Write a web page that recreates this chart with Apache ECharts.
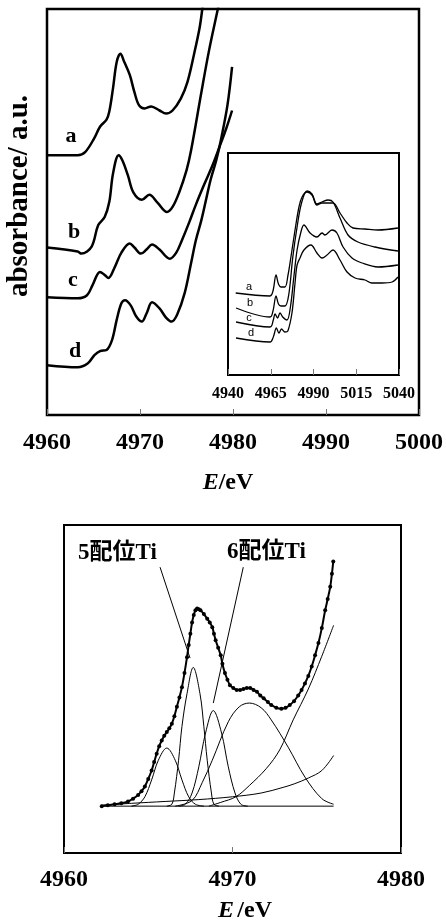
<!DOCTYPE html>
<html>
<head>
<meta charset="utf-8">
<script src="https://cdn.jsdelivr.net/npm/echarts@6/dist/echarts.min.js"></script>
<style>
html,body{margin:0;padding:0;background:#fff;}
#chart{width:446px;height:924px;}
</style>
</head>
<body>
<div id="chart"></div>
<script>
// ---------- axis ranges / ticks ----------
const mainXRange = [4960, 5000, 10];
const insetXRange = [4940, 5040, 25];
const fitXRange = [4960, 4980, 10];
const mainYRange = [0, 4];
const insetYRange = [0, 2.22];
const fitYRange = [-0.5, 3.0];

// ---------- main panel (absorbance, a.u.) ----------
const mainA = [[4960.0,2.56],[4963.3,2.56],[4964.1,2.59],[4965.1,2.73],[4965.7,2.84],[4966.4,2.91],[4966.7,2.99],[4967.1,3.22],[4967.5,3.48],[4967.9,3.56],[4968.3,3.48],[4968.9,3.35],[4969.4,3.18],[4969.9,3.05],[4970.5,3.02],[4971.2,3.04],[4972.1,3.00],[4972.8,2.97],[4973.5,3.00],[4974.4,3.12],[4975.1,3.28],[4975.8,3.55],[4976.4,3.81],[4976.7,4.00],[4977.0,4.20]];
const mainB = [[4960.0,1.65],[4963.3,1.61],[4963.7,1.59],[4964.8,1.66],[4965.5,1.87],[4966.2,1.95],[4966.7,2.10],[4967.1,2.38],[4967.7,2.56],[4968.1,2.51],[4968.7,2.36],[4969.3,2.19],[4970.2,2.12],[4971.0,2.17],[4971.9,2.09],[4972.9,2.00],[4973.5,2.05],[4974.2,2.19],[4975.0,2.41],[4975.5,2.61],[4976.6,3.18],[4977.4,3.58],[4978.3,3.97],[4978.6,4.10]];
const mainC = [[4960.0,1.16],[4963.3,1.15],[4964.3,1.18],[4964.9,1.28],[4965.7,1.41],[4966.2,1.38],[4966.6,1.35],[4967.3,1.46],[4968.0,1.60],[4968.9,1.69],[4969.4,1.65],[4970.1,1.59],[4970.7,1.63],[4971.3,1.68],[4972.1,1.63],[4973.2,1.54],[4973.9,1.60],[4974.5,1.72],[4975.3,1.90],[4976.0,2.07],[4976.9,2.27],[4977.8,2.46],[4978.5,2.63],[4979.3,2.83],[4979.9,3.00]];
const mainD = [[4960.0,0.49],[4963.3,0.47],[4964.4,0.51],[4965.1,0.59],[4965.7,0.63],[4966.4,0.64],[4967.0,0.74],[4967.5,0.94],[4968.0,1.10],[4968.4,1.13],[4969.0,1.08],[4969.6,0.97],[4970.2,0.92],[4970.7,1.00],[4971.3,1.11],[4972.1,1.05],[4972.8,0.96],[4973.4,0.92],[4974.0,0.99],[4974.8,1.20],[4975.5,1.50],[4976.0,1.72],[4976.6,1.92],[4977.1,2.12],[4977.6,2.32],[4978.2,2.51],[4978.7,2.71],[4979.4,3.05],[4979.9,3.43]];
const mainLabels = ['a','b','c','d'];

// ---------- inset panel ----------
const insetA = [[4944.5,0.82],[4964.6,0.79],[4966.3,0.84],[4968.1,1.00],[4969.5,0.91],[4971.0,0.88],[4973.3,0.88],[4975.1,1.00],[4976.8,1.18],[4979.2,1.45],[4981.5,1.68],[4983.3,1.78],[4986.2,1.83],[4989.1,1.80],[4992.0,1.70],[4995.0,1.72],[4998.5,1.72],[5001.4,1.72],[5005.5,1.62],[5009.6,1.52],[5013.1,1.47],[5020.1,1.46],[5027.7,1.45],[5039.4,1.47]];
const insetB = [[4944.7,0.67],[4964.6,0.58],[4966.3,0.64],[4968.1,0.79],[4969.5,0.71],[4971.0,0.69],[4973.3,0.69],[4975.5,0.80],[4977.9,1.18],[4980.4,1.48],[4983.0,1.72],[4986.2,1.84],[4989.1,1.81],[4992.0,1.71],[4995.0,1.73],[4998.5,1.75],[5001.4,1.73],[5005.5,1.57],[5010.2,1.40],[5016.0,1.33],[5026.0,1.28],[5039.4,1.24]];
const insetC = [[4944.7,0.53],[4964.6,0.48],[4966.5,0.55],[4967.5,0.61],[4969.0,0.57],[4970.4,0.62],[4972.0,0.58],[4974.5,0.55],[4976.5,0.68],[4978.5,0.98],[4980.4,1.25],[4982.5,1.42],[4984.4,1.50],[4988.0,1.42],[4992.0,1.38],[4995.0,1.42],[4996.7,1.40],[5000.8,1.45],[5003.7,1.42],[5007.3,1.28],[5012.5,1.17],[5018.4,1.12],[5027.7,1.08],[5039.4,1.10]];
const insetD = [[4944.7,0.37],[4964.6,0.33],[4966.5,0.38],[4968.3,0.47],[4969.8,0.42],[4971.3,0.46],[4973.3,0.43],[4975.0,0.44],[4977.4,0.62],[4979.2,0.92],[4980.4,1.10],[4982.1,1.17],[4984.4,1.25],[4988.5,1.30],[4992.0,1.22],[4995.0,1.17],[4997.9,1.20],[5001.4,1.25],[5005.5,1.15],[5009.6,1.03],[5014.3,0.97],[5020.1,0.95],[5024.2,0.92],[5030.1,0.92],[5035.9,0.93],[5039.4,0.98]];

// ---------- lower panel: peak fit ----------
const fitObs = [[4962.24,0.00],[4962.6,0.01],[4963.0,0.02],[4963.4,0.03],[4963.8,0.05],[4964.1,0.08],[4964.4,0.12],[4964.6,0.16],[4964.8,0.21],[4965.0,0.29],[4965.2,0.38],[4965.35,0.47],[4965.5,0.56],[4965.65,0.64],[4965.8,0.70],[4965.95,0.75],[4966.1,0.79],[4966.25,0.83],[4966.4,0.88],[4966.55,0.96],[4966.7,1.06],[4966.85,1.16],[4967.0,1.27],[4967.15,1.42],[4967.3,1.59],[4967.4,1.72],[4967.5,1.84],[4967.6,1.96],[4967.7,2.04],[4967.8,2.09],[4967.9,2.11],[4968.0,2.10],[4968.1,2.09],[4968.3,2.05],[4968.5,2.00],[4968.65,1.96],[4968.8,1.91],[4968.9,1.84],[4969.0,1.77],[4969.15,1.69],[4969.3,1.61],[4969.4,1.52],[4969.55,1.42],[4969.7,1.35],[4969.85,1.29],[4970.05,1.26],[4970.25,1.24],[4970.45,1.24],[4970.65,1.25],[4970.85,1.26],[4971.05,1.26],[4971.25,1.24],[4971.45,1.22],[4971.65,1.18],[4971.85,1.15],[4972.1,1.11],[4972.3,1.08],[4972.6,1.05],[4972.9,1.04],[4973.15,1.05],[4973.4,1.08],[4973.65,1.12],[4973.9,1.18],[4974.1,1.24],[4974.3,1.31],[4974.5,1.39],[4974.7,1.49],[4974.9,1.61],[4975.1,1.74],[4975.3,1.90],[4975.5,2.09],[4975.65,2.21],[4975.8,2.34],[4975.9,2.48],[4975.98,2.61]];
const fitPeak1 = [[4964.0,0.00],[4964.4,0.02],[4964.8,0.10],[4965.2,0.28],[4965.6,0.49],[4966.1,0.62],[4966.6,0.49],[4967.0,0.28],[4967.4,0.10],[4967.8,0.02],[4968.3,0.00]];
const fitPeak2 = [[4966.1,0.00],[4966.4,0.02],[4966.55,0.14],[4966.8,0.49],[4967.0,0.85],[4967.3,1.20],[4967.67,1.48],[4968.07,1.20],[4968.3,0.85],[4968.5,0.49],[4968.75,0.14],[4968.9,0.02],[4969.2,0.00]];
const fitPeak3 = [[4966.8,0.00],[4967.2,0.02],[4967.6,0.14],[4968.0,0.42],[4968.4,0.78],[4968.86,1.02],[4969.35,0.78],[4969.75,0.42],[4970.15,0.14],[4970.5,0.02],[4970.9,0.00]];
const fitPeak4 = [[4966.6,0.00],[4967.6,0.06],[4968.2,0.25],[4968.8,0.49],[4969.75,0.90],[4970.4,1.06],[4971.0,1.10],[4971.7,1.05],[4972.3,0.92],[4973.3,0.63],[4974.3,0.31],[4975.3,0.08],[4976.0,0.02]];
const fitEdge = [[4968.6,0.00],[4969.3,0.04],[4970.2,0.10],[4971.0,0.22],[4972.0,0.40],[4972.8,0.60],[4973.6,0.92],[4974.5,1.25],[4975.3,1.60],[4976.0,1.93]];
const fitBackground = [[4962.2,0.01],[4964.0,0.03],[4966.0,0.05],[4968.0,0.07],[4970.0,0.10],[4971.7,0.14],[4973.0,0.20],[4973.7,0.24],[4974.5,0.30],[4975.3,0.38],[4976.0,0.54]];
const fitBaseline = [[4962.2,0.00],[4976.0,0.00]];
const leader5 = [[4965.7,2.55],[4967.48,1.58]];
const leader6 = [[4970.64,2.55],[4968.86,1.10]];
const fitLabels = ['5配位Ti','6配位Ti'];

// ---------- chart ----------
const SERIF = "'Liberation Serif','Times New Roman',serif";
const CJK = "'Liberation Serif','Noto Sans CJK JP',serif";
const chart = echarts.init(document.getElementById('chart'), null, {renderer:'canvas'});

function xAxisCfg(r, gi, fs, margin, tickLen){
  return {
    type:'value', gridIndex:gi, min:r[0], max:r[1], interval:r[2],
    axisLine:{show:false, onZero:false},
    axisTick:{show:true, inside:true, length:tickLen, lineStyle:{color:'#777', width:1}},
    splitLine:{show:false},
    axisLabel:{color:'#000', fontFamily:SERIF, fontWeight:'bold', fontSize:fs, margin:margin,
      formatter:function(v){return String(v);}}
  };
}
function yAxisCfg(r, gi){
  return {type:'value', gridIndex:gi, min:r[0], max:r[1],
    axisLine:{show:false, onZero:false}, axisTick:{show:false}, axisLabel:{show:false}, splitLine:{show:false}};
}
function line(data, xi, w, extra){
  return Object.assign({
    type:'line', data:data, xAxisIndex:xi, yAxisIndex:xi,
    showSymbol:false, smooth:0.35, clip:true, silent:true,
    lineStyle:{color:'#000', width:w}, animation:false
  }, extra||{});
}

const mainLabelPos = [[71,136],[74,232],[73,280],[75,351]];
const insetLabelPos = [[249,287],[250,303],[249,318],[251,333]];

const graphics = [];
mainLabels.forEach((t,i)=>graphics.push({type:'text', x:mainLabelPos[i][0], y:mainLabelPos[i][1], z:10,
  style:{text:t, font:'bold 22px '+SERIF, fill:'#000', align:'center', verticalAlign:'middle', textAlign:'center', textVerticalAlign:'middle'}}));
mainLabels.forEach((t,i)=>graphics.push({type:'text', x:insetLabelPos[i][0], y:insetLabelPos[i][1], z:10,
  style:{text:t, font:"11px 'Liberation Sans',Arial,sans-serif", fill:'#000', align:'center', verticalAlign:'middle', textAlign:'center', textVerticalAlign:'middle'}}));
graphics.push({type:'text', x:20, y:196, rotation:Math.PI/2, z:10,
  style:{text:'absorbance/ a.u.', font:'bold 29px '+SERIF, fill:'#000', align:'center', verticalAlign:'middle', textAlign:'center', textVerticalAlign:'middle'}});
graphics.push({type:'text', x:228, y:483, z:10,
  style:{text:'{i|E}{n|/eV}', align:'center', verticalAlign:'middle', textAlign:'center', textVerticalAlign:'middle',
    rich:{i:{fontFamily:SERIF, fontWeight:'bold', fontStyle:'italic', fontSize:24, fill:'#000', color:'#000'},
          n:{fontFamily:SERIF, fontWeight:'bold', fontSize:24, fill:'#000', color:'#000'}}}});
graphics.push({type:'text', x:245, y:911, z:10,
  style:{text:'{i|E} {n|/eV}', align:'center', verticalAlign:'middle', textAlign:'center', textVerticalAlign:'middle',
    rich:{i:{fontFamily:SERIF, fontWeight:'bold', fontStyle:'italic', fontSize:24, fill:'#000', color:'#000'},
          n:{fontFamily:SERIF, fontWeight:'bold', fontSize:24, fill:'#000', color:'#000'}}}});
const fitLabelPos = [[78,553],[227,552]];
fitLabels.forEach((t,i)=>graphics.push({type:'text', x:fitLabelPos[i][0], y:fitLabelPos[i][1], z:10,
  style:{text:t, font:'bold 23px '+CJK, fill:'#000', align:'left', verticalAlign:'middle', textAlign:'left', textVerticalAlign:'middle'}}));

const option = {
  backgroundColor:'#fff',
  animation:false,
  grid:[
    {left:47, top:9, width:374, height:406, show:true, borderColor:'#000', borderWidth:2.5, backgroundColor:'transparent'},
    {left:228, top:153, width:171, height:222, show:true, borderColor:'#000', borderWidth:2, backgroundColor:'#fff', z:5},
    {left:64, top:525, width:337, height:328, show:true, borderColor:'#000', borderWidth:2, backgroundColor:'transparent'}
  ],
  xAxis:[
    xAxisCfg(mainXRange,0,24,16,6),
    Object.assign(xAxisCfg(insetXRange,1,16,11,6), {z:6}),
    xAxisCfg(fitXRange,2,24,15,6)
  ],
  yAxis:[yAxisCfg(mainYRange,0), yAxisCfg(insetYRange,1), yAxisCfg(fitYRange,2)],
  graphic:graphics,
  series:[
    line(mainA,0,2.5), line(mainB,0,2.5), line(mainC,0,2.5), line(mainD,0,2.5),
    line(insetA,1,1.3,{z:7}), line(insetB,1,1.3,{z:7}), line(insetC,1,1.3,{z:7}), line(insetD,1,1.3,{z:7}),
    line(fitBaseline,2,1,{smooth:false}),
    line(fitBackground,2,1),
    line(fitPeak1,2,1),
    line(fitPeak2,2,1),
    line(fitPeak3,2,1),
    line(fitPeak4,2,1),
    line(fitEdge,2,1),
    line(leader5,2,1,{smooth:false}),
    line(leader6,2,1,{smooth:false}),
    line(fitObs,2,2,{showSymbol:true, symbol:'circle', symbolSize:4, itemStyle:{color:'#000', borderWidth:0}})
  ]
};
chart.setOption(option);
</script>
</body>
</html>
